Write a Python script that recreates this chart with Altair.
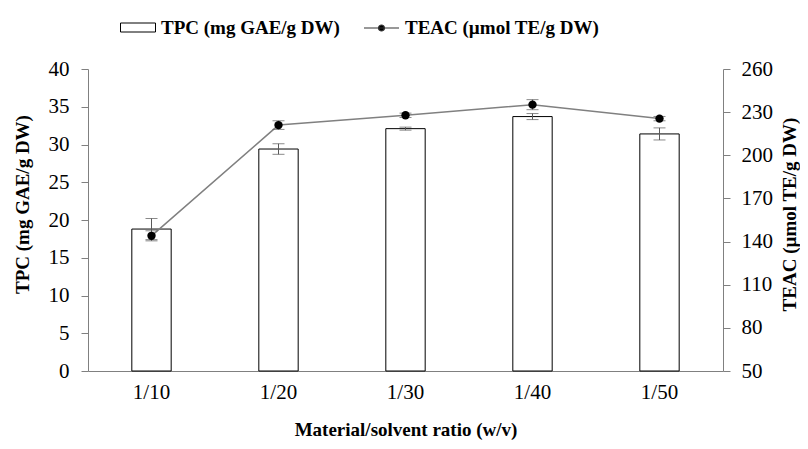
import altair as alt
import pandas as pd

ratios = ["1/10", "1/20", "1/30", "1/40", "1/50"]
tpc = [18.8, 29.4, 32.1, 33.7, 31.4]
tpc_err = [1.4, 0.7, 0.2, 0.4, 0.8]
teac = [144.0, 221.0, 227.8, 235.2, 225.5]
teac_err = [3.5, 3.0, 1.5, 3.5, 1.5]

TPC_NAME = "TPC (mg GAE/g DW)"
TEAC_NAME = "TEAC (\u00b5mol TE/g DW)"

df = pd.DataFrame({
    "ratio": ratios,
    "tpc": tpc,
    "tpc_lo": [v - e for v, e in zip(tpc, tpc_err)],
    "tpc_hi": [v + e for v, e in zip(tpc, tpc_err)],
    "teac": teac,
    "teac_lo": [v - e for v, e in zip(teac, teac_err)],
    "teac_hi": [v + e for v, e in zip(teac, teac_err)],
    "s1": TPC_NAME,
    "s2": TEAC_NAME,
})

SERIF = "Liberation Serif"
GRAY = "#808080"

x_enc = alt.X(
    "ratio:N", sort=ratios,
    scale=alt.Scale(paddingInner=0.69, paddingOuter=0.345),
    axis=alt.Axis(title="Material/solvent ratio (w/v)", labelAngle=0, ticks=False,
                  labelPadding=10, titlePadding=18, domainColor=GRAY),
)

left_axis = alt.Axis(title=TPC_NAME, values=list(range(0, 41, 5)), orient="left",
                     tickSize=7, labelPadding=12, domainColor=GRAY, tickColor=GRAY,
                     grid=False, titleX=-66, titleY=135, titleBaseline="middle")
right_axis = alt.Axis(title=TEAC_NAME, values=list(range(50, 261, 30)), orient="right",
                      tickSize=7, labelPadding=11, domainColor=GRAY, tickColor=GRAY,
                      grid=False, titleAngle=270, titleX=66, titleY=145, titleBaseline="middle")

tpc_scale = alt.Scale(domain=[0, 40], nice=False, zero=True)
teac_scale = alt.Scale(domain=[50, 260], nice=False, zero=False)

base = alt.Chart(df)

bars = base.mark_bar(fill="white", stroke="black", strokeWidth=1).encode(
    x=x_enc,
    y=alt.Y("tpc:Q", scale=tpc_scale, axis=left_axis),
    fill=alt.Fill("s1:N", scale=alt.Scale(domain=[TPC_NAME], range=["white"]),
                  legend=alt.Legend(title=None, orient="none", legendX=39.5, legendY=-52,
                                    symbolType="M-1.75,-0.45H1.75V0.45H-1.75Z",
                                    symbolSize=400, symbolStrokeColor="black",
                                    symbolStrokeWidth=1, labelOffset=12.5, labelLimit=0,
                                    labelFont=SERIF, labelFontSize=19, labelFontWeight="bold",
                                    labelColor="black", padding=0)),
)
tpc_rule = base.mark_rule(color="#595959", strokeWidth=1).encode(
    x=x_enc, y=alt.Y("tpc_lo:Q", scale=tpc_scale, axis=left_axis), y2="tpc_hi:Q")
tpc_tick_lo = base.mark_tick(color="#595959", size=12, thickness=1).encode(
    x=x_enc, y=alt.Y("tpc_lo:Q", scale=tpc_scale, axis=left_axis))
tpc_tick_hi = base.mark_tick(color="#595959", size=12, thickness=1).encode(
    x=x_enc, y=alt.Y("tpc_hi:Q", scale=tpc_scale, axis=left_axis))

left = alt.layer(bars, tpc_rule, tpc_tick_lo, tpc_tick_hi)

line = base.mark_line(color=GRAY, strokeWidth=1.5).encode(
    x=x_enc, y=alt.Y("teac:Q", scale=teac_scale, axis=right_axis))
teac_rule = base.mark_rule(color="#595959", strokeWidth=1).encode(
    x=x_enc, y=alt.Y("teac_lo:Q", scale=teac_scale, axis=right_axis), y2="teac_hi:Q")
teac_tick_lo = base.mark_tick(color="#595959", size=12, thickness=1).encode(
    x=x_enc, y=alt.Y("teac_lo:Q", scale=teac_scale, axis=right_axis))
teac_tick_hi = base.mark_tick(color="#595959", size=12, thickness=1).encode(
    x=x_enc, y=alt.Y("teac_hi:Q", scale=teac_scale, axis=right_axis))
points = base.mark_circle(size=70, opacity=1).encode(
    x=x_enc, y=alt.Y("teac:Q", scale=teac_scale, axis=right_axis),
    color=alt.Color("s2:N", scale=alt.Scale(domain=[TEAC_NAME], range=["black"]),
                    legend=alt.Legend(title=None, orient="none", legendX=282.5, legendY=-52,
                                      symbolType="M-1.75,0H1.75M0.3,0A0.3,0.3,0,1,1,-0.3,0A0.3,0.3,0,1,1,0.3,0Z",
                                      symbolSize=400, symbolStrokeColor="#333333",
                                      symbolStrokeWidth=1.2, symbolFillColor="black",
                                      symbolOpacity=1, labelOffset=12.5, labelLimit=0,
                                      labelFont=SERIF, labelFontSize=19, labelFontWeight="bold",
                                      labelColor="black", padding=0)),
)

right = alt.layer(line, teac_rule, teac_tick_lo, teac_tick_hi, points)

chart = alt.layer(left, right).resolve_scale(y="independent").properties(
    width=635, height=302,
    autosize=alt.AutoSizeParams(type="none"),
    padding={"left": 80, "top": 61, "right": 77, "bottom": 70},
).configure_view(stroke=None).configure_axis(
    labelFont=SERIF, labelFontSize=21, labelColor="black",
    titleFont=SERIF, titleFontSize=19, titleFontWeight="bold", titleColor="black",
    domainWidth=1,
)

chart.save("out.html", embed_options={"renderer": "svg", "actions": False})
